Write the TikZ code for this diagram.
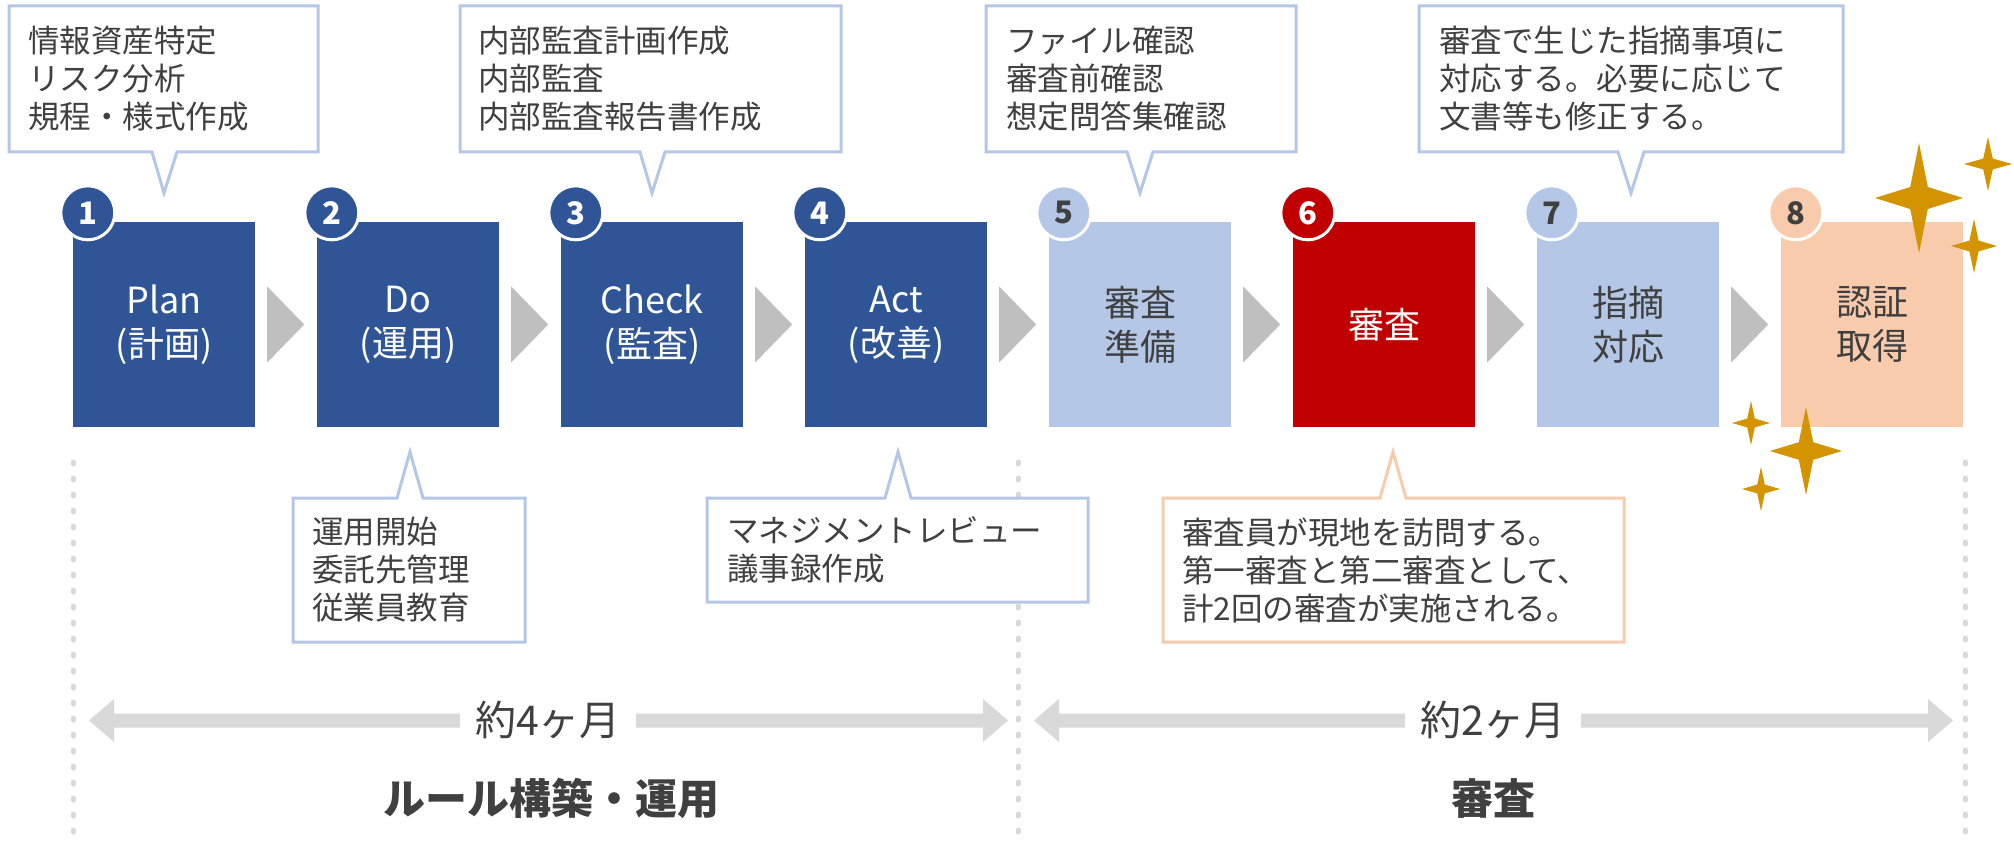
\documentclass[tikz,border=0pt]{standalone}
\usepackage{fontspec}
\setmainfont{Noto Sans CJK JP}
\usetikzlibrary{calc}
\definecolor{dblue}{HTML}{2F5597}
\definecolor{lblue}{HTML}{B4C7E7}
\definecolor{peach}{HTML}{F8CBAD}
\definecolor{dred}{HTML}{C00000}
\definecolor{chev}{HTML}{BFBFBF}
\definecolor{lgray}{HTML}{D9D9D9}
\definecolor{txt}{HTML}{404040}
\definecolor{gold}{RGB}{211,148,0}
\newcommand\sparkle[4]{%
  \fill[gold] (#1,#2-#4) -- (#1+0.2*#3,#2-0.2*#4) -- (#1+#3,#2) -- (#1+0.2*#3,#2+0.2*#4)
  -- (#1,#2+#4) -- (#1-0.2*#3,#2+0.2*#4) -- (#1-#3,#2) -- (#1-0.2*#3,#2-0.2*#4) -- cycle;}
\begin{document}
\begin{tikzpicture}[x=1pt,y=-1pt,
  box/.style={minimum width=182pt, minimum height=205pt, inner sep=0pt, align=center,
    font=\fontsize{36}{44}\selectfont},
  num/.style={circle, minimum size=54pt, inner sep=0pt, draw=white, line width=3pt,
    font=\fontsize{31}{31}\selectfont\bfseries},
  ctext/.style={anchor=west, align=left, text=txt, inner sep=0pt,
    font=\fontsize{31.5}{38}\selectfont},
  callb/.style={fill=white, draw=lblue, line width=3pt, line join=miter},
  callp/.style={fill=white, draw=peach, line width=3pt, line join=miter},
  chevron/.style={fill=chev},
  dots/.style={lgray, line width=5pt, line cap=round, dash pattern=on 2pt off 14pt},
  span/.style={fill=lgray},
  spantext/.style={fill=white, text=txt, inner xsep=15pt, inner ysep=2pt,
    font=\fontsize{41}{41}\selectfont},
  phase/.style={text=txt, font=\fontsize{42}{42}\selectfont\bfseries}
]
\useasboundingbox (0,0) rectangle (2014,842);
\fill[white] (0,0) rectangle (2014,842);

% dotted separators
\draw[dots] (73,462) -- (73,837);
\draw[dots] (1018,462) -- (1018,837);
\draw[dots] (1965,462) -- (1965,837);

% duration arrows
\fill[span] (89,720.5) -- (114,699) -- (114,713.5) -- (983,713.5) -- (983,699) -- (1008,720.5)
  -- (983,742) -- (983,727.5) -- (114,727.5) -- (114,742) -- cycle;
\node[spantext] (d1) at (548,720) {約4ヶ月};
\fill[span] (1034,720.5) -- (1059,699) -- (1059,713.5) -- (1928,713.5) -- (1928,699) -- (1953,720.5)
  -- (1928,742) -- (1928,727.5) -- (1059,727.5) -- (1059,742) -- cycle;
\node[spantext] (d2) at (1493,720) {約2ヶ月};

\node[phase] (p1) at (551,798) {ルール構築・運用};
\node[phase] (p2) at (1493,798) {審査};

% boxes
\node[box, fill=dblue, text=white] (b1) at (164,324.5) {Plan\\(計画)};
\node[box, fill=dblue, text=white] (b2) at (408,324.5) {Do\\(運用)};
\node[box, fill=dblue, text=white] (b3) at (652,324.5) {Check\\(監査)};
\node[box, fill=dblue, text=white] (b4) at (896,324.5) {Act\\(改善)};
\node[box, fill=lblue, text=txt] (b5) at (1140,324.5) {審査\\準備};
\node[box, fill=dred, text=white] (b6) at (1384,324.5) {審査};
\node[box, fill=lblue, text=txt] (b7) at (1628,324.5) {指摘\\対応};
\node[box, fill=peach, text=txt] (b8) at (1872,324.5) {認証\\取得};

% number circles
\foreach \i/\c/\t in {1/dblue/white,2/dblue/white,3/dblue/white,4/dblue/white,5/lblue/txt,6/dred/white,7/lblue/txt,8/peach/txt}{
  \node[num, fill=\c, text=\t] (n\i) at ($(b\i.north west)+(15,-9)$) {\i};
}

% chevrons
\foreach \i in {1,...,7}{
  \fill[chevron] ($(b\i.east)+(12,-38)$) -- ($(b\i.east)+(49,0)$) -- ($(b\i.east)+(12,38)$) -- cycle;
}

% upper callouts
\draw[callb] (9,6) -- (318,6) -- (318,152) -- (177,152) -- (164,193) -- (152,152) -- (9,152) -- cycle;
\node[ctext] (c1) at (28,79) {情報資産特定\\リスク分析\\規程・様式作成};
\draw[callb] (460,6) -- (841,6) -- (841,152) -- (665,152) -- (652,193) -- (640,152) -- (460,152) -- cycle;
\node[ctext] (c3) at (478,79) {内部監査計画作成\\内部監査\\内部監査報告書作成};
\draw[callb] (986,6) -- (1296,6) -- (1296,152) -- (1153,152) -- (1140,193) -- (1127,152) -- (986,152) -- cycle;
\node[ctext] (c5) at (1006,79) {ファイル確認\\審査前確認\\想定問答集確認};
\draw[callb] (1419,6) -- (1843,6) -- (1843,152) -- (1644,152) -- (1631,193) -- (1618,152) -- (1419,152) -- cycle;
\node[ctext] (c7) at (1439,79) {審査で生じた指摘事項に\\対応する。必要に応じて\\文書等も修正する。};

% lower callouts
\draw[callb] (293,498) -- (397,498) -- (410,452) -- (423,498) -- (525,498) -- (525,642) -- (293,642) -- cycle;
\node[ctext] (c2) at (312,570) {運用開始\\委託先管理\\従業員教育};
\draw[callb] (707,498) -- (885,498) -- (898,452) -- (911,498) -- (1088,498) -- (1088,602) -- (707,602) -- cycle;
\node[ctext] (c4) at (727,550) {マネジメントレビュー\\議事録作成};
\draw[callp] (1163,498) -- (1380,498) -- (1393,452) -- (1406,498) -- (1624,498) -- (1624,642) -- (1163,642) -- cycle;
\node[ctext] (c6) at (1182,570) {審査員が現地を訪問する。\\第一審査と第二審査として、\\計2回の審査が実施される。};

% sparkles
\sparkle{1919}{198}{44}{55}
\sparkle{1988}{164}{24}{27}
\sparkle{1974}{246}{23}{27}
\sparkle{1751}{423}{19}{22}
\sparkle{1806}{451}{36}{44}
\sparkle{1761}{489}{19}{22}
\end{tikzpicture}
\end{document}
